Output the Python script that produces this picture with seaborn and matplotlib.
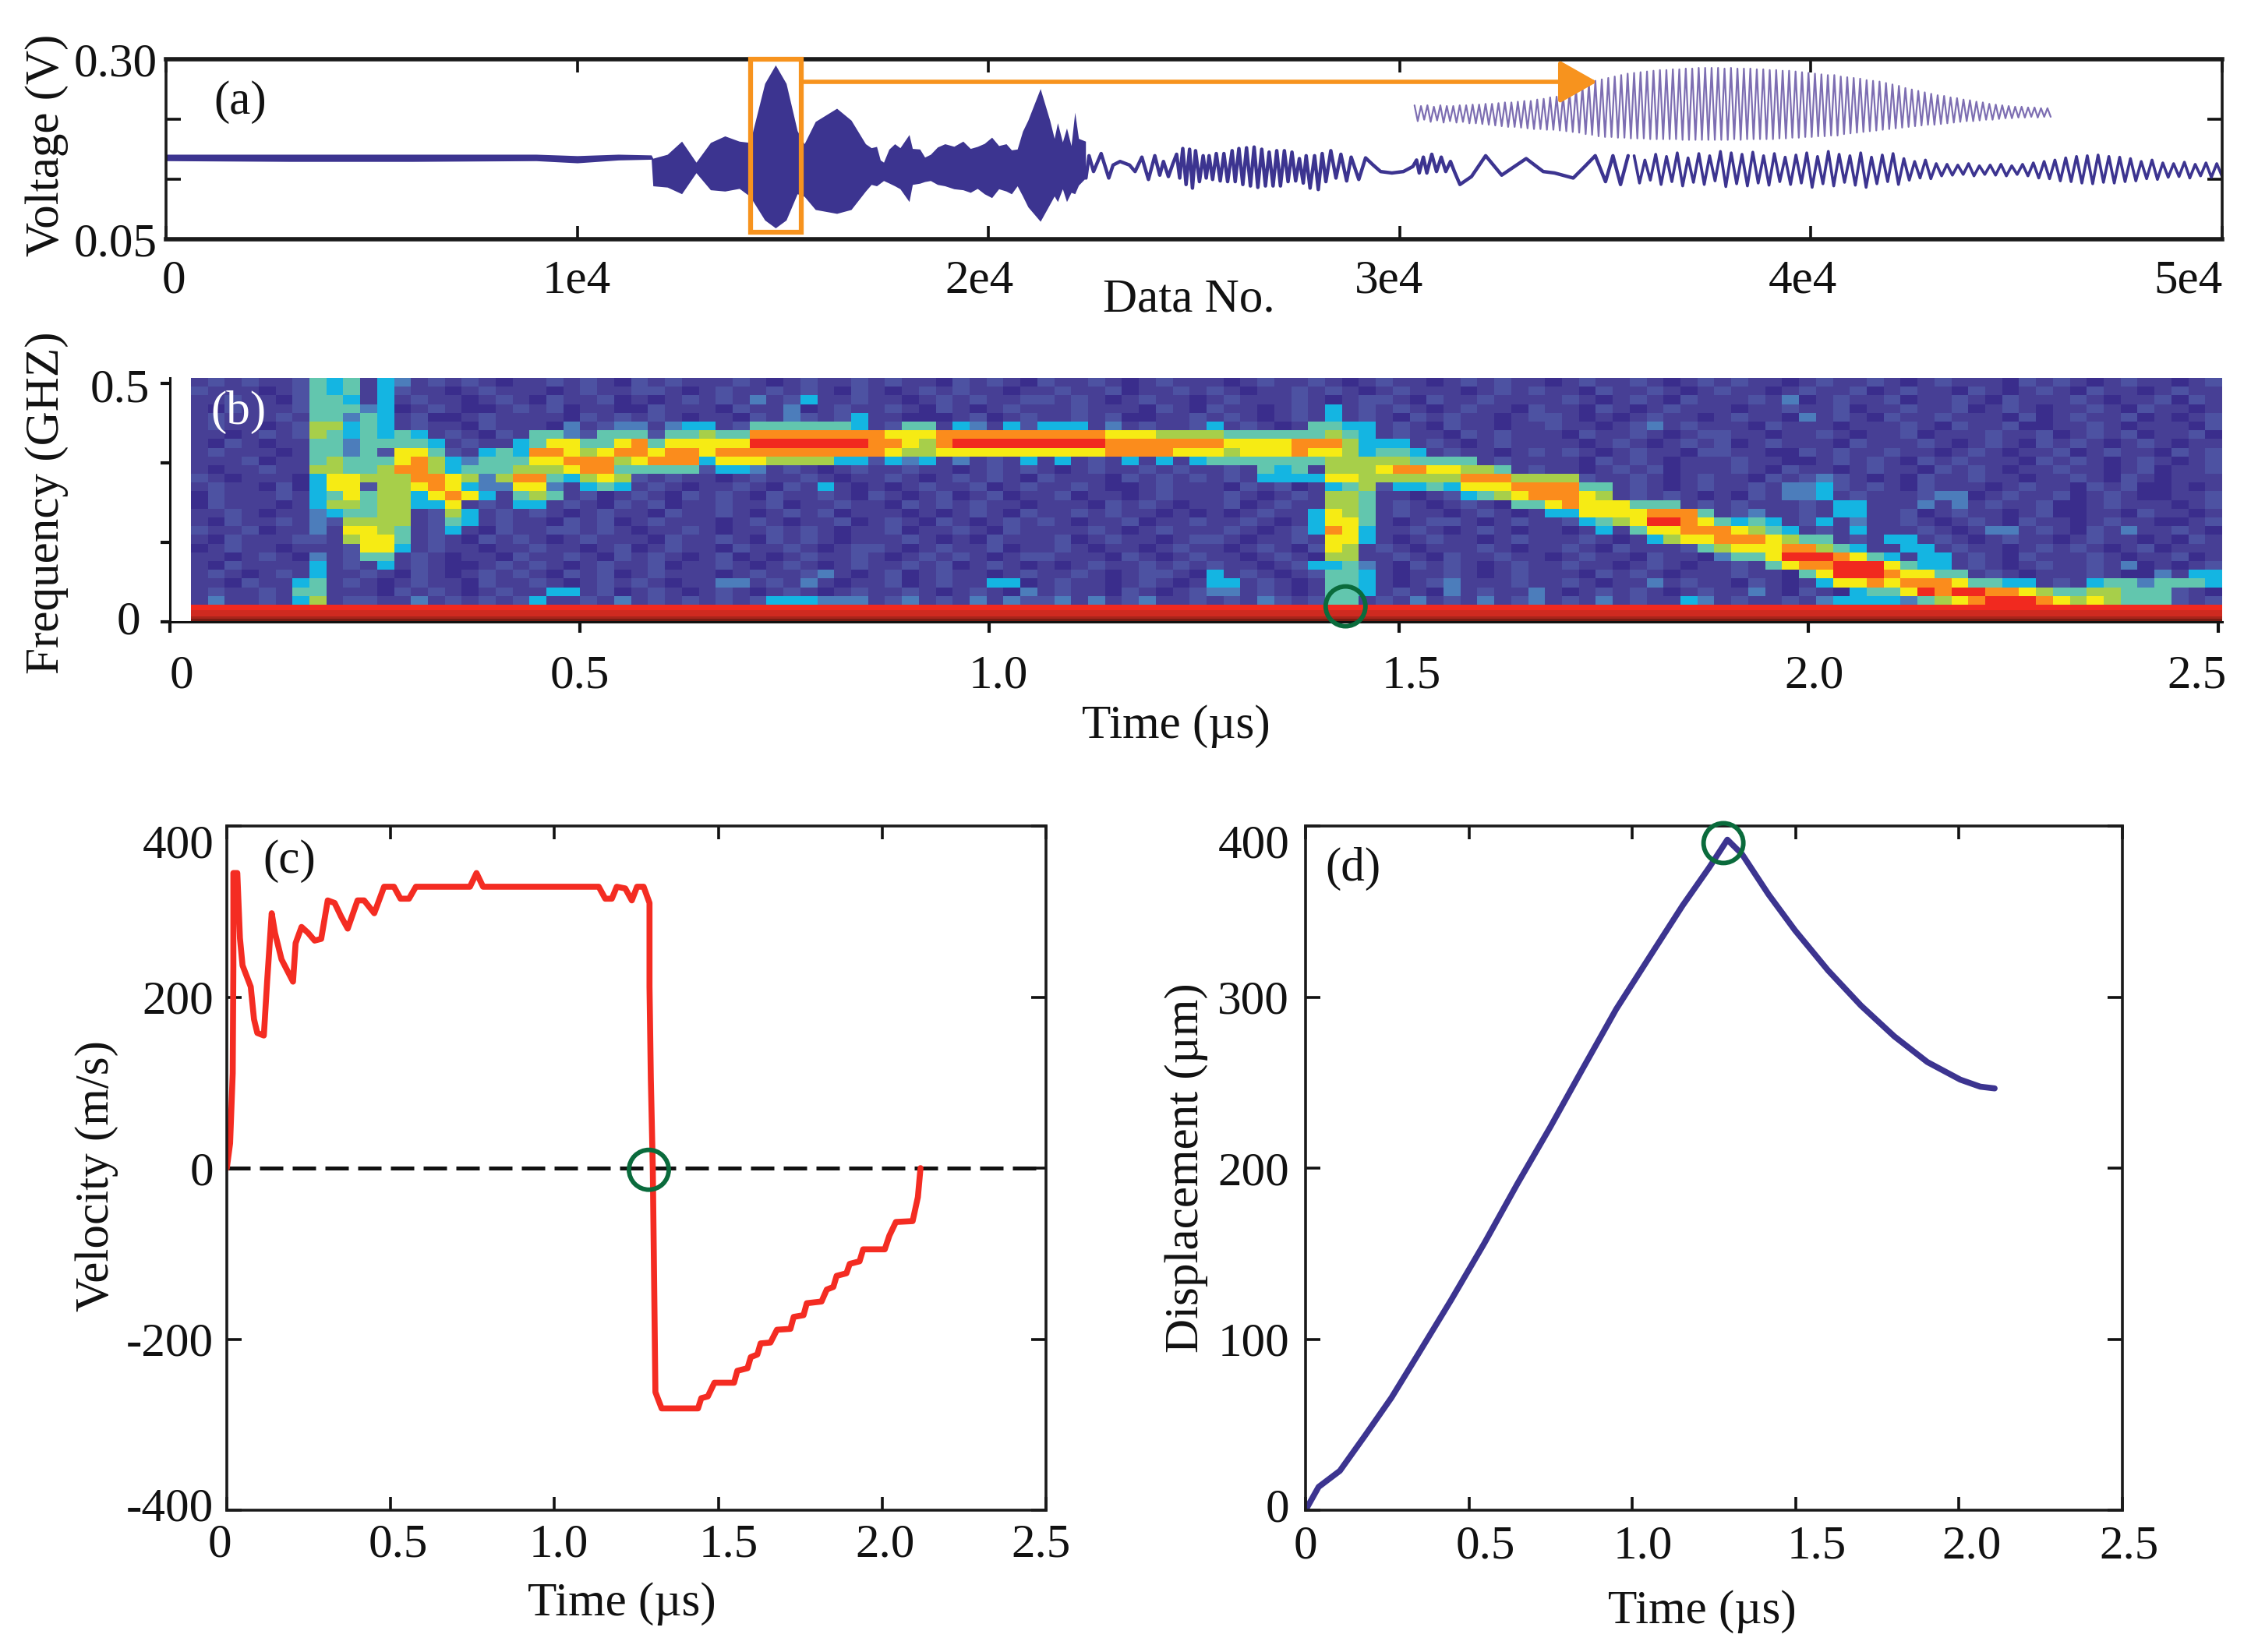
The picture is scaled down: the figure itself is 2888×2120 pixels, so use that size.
import numpy as np
import pandas as pd
import matplotlib
matplotlib.use('Agg')
import matplotlib.pyplot as plt
from matplotlib.colors import ListedColormap
from matplotlib.patches import Rectangle
from matplotlib.transforms import Affine2D, ScaledTranslation
import seaborn as sns

# panel (a) waveform, envelope of the dense part
env_x = [0, 3000, 6000, 9000, 10000, 11000, 11800, 11840, 12190, 12540, 12890, 13240, 13590, 13940, 14200, 14560, 14820,
         15080, 15350, 15520, 15790, 16310, 16660, 17010, 17150, 17280, 17370, 17450, 17580, 17720, 17850, 18070, 18150,
         18330, 18450, 18590, 18760, 18940, 19160, 19380, 19560, 19730, 19900, 20080, 20250, 20430, 20560, 20700, 20830,
         20960, 21260, 21490, 21600, 21680, 21800, 21900, 22010, 22100, 22190, 22360]
env_hi = [.168, .168, .168, .168, .166, .168, .167, .1624, .1679, .1861, .1569, .1843, .1934, .1861, .1843, .2664, .2920,
          .2664, .2007, .1825, .2135, .2318, .2153, .1825, .1770, .1788, .1600, .1569, .1750, .1825, .1770, .1953, .1760,
          .1752, .1640, .1679, .1780, .1825, .1790, .1861, .1760, .1788, .1830, .1916, .1800, .1825, .1740, .1752, .2000,
          .2153, .2591, .2153, .1900, .2117, .1850, .2044, .1800, .2263, .1900, .1861]
env_lo = [.159, .158, .158, .159, .156, .160, .161, .1241, .1223, .1131, .1423, .1186, .1168, .1205, .1095, .0766, .0657,
          .0766, .1131, .1095, .0912, .0858, .0912, .1168, .1260, .1241, .1280, .1314, .1280, .1241, .1200, .1022, .1260,
          .1277, .1300, .1314, .1260, .1241, .1200, .1186, .1150, .1205, .1130, .1077, .1200, .1168, .1130, .1241, .1100,
          .0949, .0748, .0985, .1100, .1022, .1200, .1022, .1150, .1131, .1250, .1350]

# slower oscillation after the burst
tail_x = [22370, 22445, 22555, 22740, 22925, 23030, 23200, 23430, 23565, 23730, 23890, 24045, 24165, 24255, 24375, 24485,
          24575, 24650, 24725, 24805, 24890, 24960, 25035, 25130, 25220, 25295, 25365, 25450, 25540, 25635, 25725, 25815,
          25925, 26000, 26090, 26185, 26275, 26370, 26460, 26550, 26645, 26735, 26825, 26920, 27010, 27100, 27195, 27285,
          27380, 27470, 27560, 27655, 27725, 27820, 27930, 28020, 28115, 28205, 28325, 28450, 28570, 28710, 28820, 29005,
          29170, 29355, 29535, 29810, 30090, 30320, 30410, 30475, 30575, 30660, 30780, 30895, 31010, 31120, 31235, 31330,
          31465, 31745, 32090, 32480, 33075, 33490, 33765, 34220, 34500, 34755, 35005, 35185, 35370, 35555]
tail_y = [.135, .166, .144, .169, .135, .153, .158, .153, .144, .164, .133, .166, .139, .158, .137, .155,
          .168, .135, .176, .126, .175, .121, .173, .130, .166, .135, .166, .133, .169, .131, .169, .130,
          .173, .130, .176, .126, .177, .124, .178, .122, .175, .124, .171, .124, .173, .124, .173, .130,
          .171, .131, .162, .128, .166, .121, .166, .119, .169, .130, .173, .135, .168, .131, .164, .133,
          .163, .153, .144, .142, .144, .151, .160, .142, .164, .142, .168, .144, .164, .144, .158, .144,
          .126, .137, .166, .139, .162, .144, .142, .135, .151, .166, .130, .166, .126, .166]

end_hi = [.166, .160, .168, .165, .170, .163, .169, .166, .172, .170, .168, .171, .166, .169, .164, .167, .170, .165, .172,
          .168, .166, .170, .164, .167, .169, .162, .158, .160, .155, .154, .153, .155, .152, .153, .154, .152, .154, .156,
          .158, .160, .163, .165, .166, .167, .165, .164, .162, .158, .160, .156, .155, .157, .154, .156, .155]
end_lo = [.128, .132, .126, .130, .124, .129, .126, .131, .123, .127, .124, .128, .125, .130, .126, .128, .122, .127, .124,
          .129, .125, .122, .127, .130, .126, .132, .135, .134, .138, .139, .140, .138, .140, .139, .138, .140, .138, .135,
          .134, .131, .130, .128, .127, .129, .128, .130, .131, .134, .133, .136, .137, .135, .138, .136, .137]

# enlarged burst drawn inside panel (a)
inset_hi = [.236, .235, .236, .234, .236, .235, .235, .236, .236, .237, .237, .238,
            .238, .239, .240, .240, .241, .242, .242, .244, .245, .247, .248, .249,
            .254, .258, .262, .266, .270, .272, .274, .276, .278, .280,
            .281, .282, .283, .284, .285, .285, .286, .286, .287, .287, .288, .288, .288,
            .288, .287, .288, .287, .287, .287, .286, .286, .285, .285, .284, .284,
            .283, .282, .281, .280, .279, .278, .278, .276, .275, .274, .273, .271, .270, .269,
            .267, .265, .263, .260, .258, .256, .254, .252, .250, .249, .247, .246, .244, .243,
            .241, .240, .238, .237, .236, .235, .234, .234, .233, .233, .232, .232]
inset_lo = [.214, .216, .213, .215, .212, .214, .212, .213, .211, .211, .210, .209,
            .208, .207, .206, .206, .205, .204, .203, .203, .202, .202, .201, .200,
            .199, .198, .196, .195, .193, .192, .192, .191, .191, .190,
            .190, .190, .189, .189, .189, .189, .189, .188, .188, .188, .188, .188, .188,
            .188, .188, .189, .188, .189, .189, .189, .189, .189, .190, .190, .191,
            .191, .192, .192, .193, .193, .194, .194, .196, .197, .198, .199, .200, .201, .202,
            .203, .204, .205, .206, .207, .208, .209, .209, .210, .211, .212, .213, .214, .214,
            .215, .216, .216, .217, .218, .218, .219, .219, .220, .219, .220, .220]

# panel (b) spectrogram, top row first, one hex level per cell
spec_rows = [
    "1212112545 1431212101 1212102121 1121012112 1211021210 2112101211 1012112101 2110121211 0121121012 1211012112 1012111021 2101211012",
    "2111012545 1421101211 1012112210 1211212102 1012121101 1211201121 2101121210 1211101212 1102112101 2110121120 1211021012 1021101211",
    "1121102554 1412110121 0211201012 1213124112 1101212112 2121012110 1211121012 2102112111 1210121021 1121301211 2011210211 1210112021",
    "1021112555 3401210012 1201100211 1021130121 1210210121 1121110210 2110121412 1210121102 1102101211 1011211201 1211201210 1121021101",
    "1211121553 5412001211 1102121210 1102132124 1100012012 1121200112 1210121412 1021211012 2101012110 1211031210 2112111020 1211201012",
    "1211012664 5412110211 1031233134 4125555554 1255143142 4441312112 4121015544 1210211011 2110123121 1102111011 1210211200 1121011102",
    "1101212654 5454121021 5532555255 6558888888 8777888888 8888777666 6555555654 1211021211 1021121012 2110112101 1201112112 0121201120",
    "1021011553 5555412114 5775578577 7779999999 8876899999 9999888888 8777788864 4412101211 1101210121 2012111021 1121012102 1210121011",
    "1211101553 5277521454 8876788788 7888888888 8766777777 7777888877 7677787764 5541211012 1210121102 2110021211 2110121011 2012110212",
    "1112011565 5578643555 7788867888 4777666644 2434131214 1412141414 5555555666 6655551211 1102121011 1211001212 1021211102 1210121012",
    "1011211665 5688645556 6678855555 2443121012 1121101212 1012112121 1215451666 7887766512 1101212011 1210211012 1102121011 2110120112",
    "2101110477 6668876368 8546762121 1012112101 1210121210 2111021212 1214444776 6666688866 6621121012 1102123210 1021121101 1210210111",
    "1211020477 2667874337 7314541210 1121021410 1012112012 1121001211 1021201456 2445477788 8855121012 1121334212 1021110121 1021200101",
    "0211121457 5664787415 6512012102 1210211210 2101201201 1201101211 1210121665 1101245678 8876121210 1021334121 1123301211 2012100112",
    "0211101466 5664471214 4121021201 1211201121 1021212110 1110212101 1201211665 1210121055 7877755512 1211121441 1131312112 0012111012",
    "1121011345 5661264121 2101211021 1210121201 1101012102 1121211010 1012114765 1211012101 4477778885 1231121441 1201211012 0011021101",
    "1021121326 6661254121 1021201211 1012101120 1210210121 2101120112 1121014775 1012210121 1245679987 5454124131 1210121021 1012110012",
    "2112011317 7651241021 1221210112 1011212101 1201121021 1112101211 1210124874 1121012101 1014157788 8765412141 1121013312 1021311210",
    "1021112216 7751210212 1012111021 1210212101 1121010211 1201211012 2101121774 1012110121 1121014677 8887655121 4412101211 0121101021",
    "0121101112 7741211011 2110120121 1021121012 2101211201 1210110121 1012102761 2101112101 1210211125 6777886541 1441211012 1210120111",
    "1101210312 5512101102 1121021210 1201012112 1012121012 2111021012 1101210661 1210211211 0121102110 3557999875 4144121021 1121011201",
    "1021111412 1412100121 2101211201 1210121012 1121201210 1012112121 2110124453 1021210121 1211012101 1215788999 7544121012 1121301012",
    "1210121411 2102101212 1021201211 1012112310 1201211012 1121012210 4121012554 1011210121 1102121011 1211057999 8775512101 1121003144",
    "1102114512 1012110211 2101212101 1331213101 1201211440 1211012101 4412101554 1012311121 1210113121 1021014778 7888755441 2145535554",
    "1211215511 1021210121 1441201210 1210121012 1121012103 1211021012 3312101554 1210312113 1012121012 1131021045 5798998876 5566555210",
    "1311214612 2113121212 4112131212 1212444333 1231213132 2313123112 1213212551 2131213123 1213121143 1211213444 4356789998 7676555212",
]
band_levels = [9, 9, 10, 10, 11, 12]
spec_palette = ['#3a2d8c', '#473f95', '#4d52a2', '#4c7dbb', '#14b5e2', '#62c6ae', '#a7cf4a',
                '#f6eb14', '#fb8c1c', '#f1291f', '#cf2a20', '#a8251b', '#7b1c13']

# panel (c) velocity
vel_t = [0, .010, .018, .020, .020, .032, .040, .048, .073, .083, .093, .113, .123, .137, .147, .167, .202, .210, .228,
         .248, .268, .288, .308, .329, .349, .369, .399, .419, .450, .480, .510, .530, .556, .577, .742, .762, .782,
         1.135, 1.155, 1.175, 1.190, 1.216, 1.236, 1.252, 1.272, 1.290, 1.290, 1.294, 1.300, 1.304, 1.308, 1.327,
         1.438, 1.448, 1.468, 1.488, 1.548, 1.558, 1.589, 1.599, 1.619, 1.629, 1.659, 1.679, 1.720, 1.730, 1.760,
         1.770, 1.815, 1.831, 1.851, 1.861, 1.891, 1.901, 1.931, 1.942, 2.008, 2.022, 2.042, 2.093, 2.109, 2.117]
vel_v = [0, 29, 111, 237, 345, 345, 269, 237, 212, 174, 158, 155, 218, 298, 275, 244, 218, 263, 282,
         275, 266, 268, 313, 310, 294, 280, 313, 313, 298, 329, 329, 315, 315, 329, 329, 345, 329,
         329, 315, 315, 329, 327, 313, 329, 329, 310, 212, 105, 0, -129, -262, -281,
         -281, -269, -267, -251, -251, -237, -234, -221, -218, -205, -204, -189, -188, -174, -172,
         -158, -156, -142, -139, -126, -123, -112, -109, -95, -95, -79, -63, -62, -34, 0]

# panel (d) displacement
dis_t = [0, .040, .105, .182, .263, .344, .445, .547, .648, .749, .850, .951, 1.053, 1.154, 1.235, 1.291,
         1.336, 1.417, 1.498, 1.599, 1.700, 1.802, 1.903, 2.004, 2.065, 2.109]
dis_d = [0, 13.6, 23, 43.6, 65.8, 91, 122.7, 156, 190.7, 224, 258.7, 293, 323.5, 353.5, 375.6, 392,
         383.5, 360, 339, 315.6, 295, 277, 262, 251.7, 247.6, 246.6]

W, H = 2888, 2120
NAVY = '#3c3490'
ORANGE = '#f7931e'
GREEN = '#0a6b3c'
RED = '#f42c22'

sns.set_theme(style='white')
plt.rcParams['font.family'] = ['Liberation Serif', 'DejaVu Serif']
plt.rcParams['font.size'] = 44
plt.rcParams['text.color'] = '#111111'
plt.rcParams['xtick.color'] = '#111111'
plt.rcParams['ytick.color'] = '#111111'
plt.rcParams['xtick.labelcolor'] = '#111111'
plt.rcParams['ytick.labelcolor'] = '#111111'
plt.rcParams['axes.labelcolor'] = '#111111'

fig = plt.figure(figsize=(W / 100, H / 100), dpi=100, facecolor='white')
px = Affine2D().scale(1 / W, -1 / H).translate(0, 1) + fig.transFigure


def add_ax(left, top, right, bottom):
    return fig.add_axes([left / W, 1 - bottom / H, (right - left) / W, (bottom - top) / H])


def shift_labels(labels, dx, dy=None):
    for i, lab in enumerate(labels):
        up = 0 if dy is None else dy[i]
        lab.set_transform(lab.get_transform() + ScaledTranslation(dx[i] / 100, up / 100, fig.dpi_scale_trans))


def put_labels(ax, xlabel, xpos, ylabel, ypos):
    ax.set_xlabel(xlabel, fontsize=44, va='center', ha='center')
    ax.set_ylabel(ylabel, fontsize=44, va='center', ha='center', rotation=90)
    ax.xaxis.set_label_coords(xpos[0], xpos[1], transform=px)
    ax.yaxis.set_label_coords(ypos[0], ypos[1], transform=px)


def zigzag(hi, lo):
    y = np.empty(len(hi) * 2)
    y[0::2] = hi
    y[1::2] = lo
    return y


def box_ax(ax, xticks, xlabs, yticks, ylabs, xlim, ylim, xpad, ypad):
    ax.set_xlim(*xlim)
    ax.set_ylim(*ylim)
    ax.set_xticks(xticks)
    ax.set_xticklabels(xlabs)
    ax.set_yticks(yticks)
    ax.set_yticklabels(ylabs)
    ax.tick_params(axis='x', direction='in', top=True, bottom=True, length=12, width=2.6, labelsize=44, pad=xpad)
    ax.tick_params(axis='y', direction='in', left=True, right=True, length=14, width=2.6, labelsize=44, pad=ypad)
    for sp in ax.spines.values():
        sp.set_visible(True)
        sp.set_color('#1a1a1a')
        sp.set_linewidth(2.6)


# (a)
ax_a = add_ax(213, 76, 2851, 307)
inset_x = np.linspace(30360, 45830, len(inset_hi) * 2)
sns.lineplot(x=inset_x, y=zigzag(inset_hi, inset_lo), ax=ax_a, sort=False, estimator=None, color='#7d6eb2', lw=1.6)
ax_a.fill_between(env_x, env_lo, env_hi, color=NAVY, lw=0)
tail_df = pd.DataFrame({'no': tail_x, 'volt': tail_y})
sns.lineplot(data=tail_df, x='no', y='volt', ax=ax_a, sort=False, estimator=None, color=NAVY, lw=3.2)
end_x = np.linspace(35700, 50000, len(end_hi) * 2)
sns.lineplot(x=end_x, y=zigzag(end_hi, end_lo), ax=ax_a, sort=False, estimator=None, color=NAVY, lw=2.6)
box_ax(ax_a, [0, 1e4, 2e4, 3e4, 4e4, 5e4], ['0', '1e4', '2e4', '3e4', '4e4', '5e4'],
       [0.05, 0.05 + 0.25 / 3, 0.05 + 0.5 / 3, 0.30], ['0.05', '', '', '0.30'],
       (0, 5e4), (0.05, 0.30), 19, 8)
ax_a.spines['top'].set_linewidth(4)
ax_a.spines['bottom'].set_linewidth(4)
ax_a.add_patch(Rectangle((14212, 0.0597), 1234, 0.2403, fill=False, ec=ORANGE, lw=4.5, clip_on=False, zorder=5))
ax_a.annotate('', xy=(34800, 0.2686), xytext=(15446, 0.2686), zorder=5,
              arrowprops=dict(arrowstyle='-|>,head_length=30,head_width=17', mutation_scale=1, lw=4,
                              color=ORANGE, shrinkA=0, shrinkB=0))
put_labels(ax_a, 'Data No.', (1525, 385), 'Voltage (V)', (60, 186))
shift_labels(ax_a.get_xticklabels(), [10, -1, -12, -14, -10, -44])
ax_a.text(308, 131, '(a)', transform=px, fontsize=44, ha='center', va='center')

# (b)
spec_grid = np.array([[int(c, 16) for c in row.replace(' ', '')] for row in spec_rows], dtype=float)
spec_cmap = ListedColormap(spec_palette)
ax_hm = add_ax(245, 485, 2851, 776)
sns.heatmap(spec_grid, ax=ax_hm, cmap=spec_cmap, vmin=-0.5, vmax=12.5, cbar=False, xticklabels=False, yticklabels=False)
ax_band = add_ax(245, 776, 2851, 798)
sns.heatmap(np.array(band_levels, dtype=float).reshape(-1, 1), ax=ax_band, cmap=spec_cmap, vmin=-0.5, vmax=12.5,
            cbar=False, xticklabels=False, yticklabels=False)
ax_b = add_ax(218, 485, 2851, 798)
ax_b.patch.set_alpha(0)
ax_b.set_xlim(0, 2.505)
ax_b.set_ylim(0, 0.5114)
ax_b.set_xticks([0, 0.5, 1.0, 1.5, 2.0, 2.5])
ax_b.set_xticklabels(['0', '0.5', '1.0', '1.5', '2.0', '2.5'])
ax_b.set_yticks([0, 0.5 / 3, 1.0 / 3, 0.5])
ax_b.set_yticklabels(['0', '', '', '0.5'])
ax_b.tick_params(axis='x', direction='out', bottom=True, length=10, width=3, labelsize=44, pad=20)
ax_b.tick_params(axis='y', direction='out', left=True, length=9, width=3, labelsize=44, pad=8)
for name, sp in ax_b.spines.items():
    sp.set_visible(name in ('left', 'bottom'))
    sp.set_color('#111111')
    sp.set_linewidth(2.2)
ax_b.scatter([1.435], [0.0325], s=1350, facecolors='none', edgecolors=GREEN, linewidths=4.2, zorder=6, clip_on=False)
put_labels(ax_b, 'Time (µs)', (1509, 932), 'Frequency (GHZ)', (60, 645))
shift_labels(ax_b.get_xticklabels(), [15, 0, 12, 16, 7, -27])
shift_labels(ax_b.get_yticklabels(), [-14, 0, 0, -2], [6, 0, 0, -2])
ax_b.text(306, 529, '(b)', transform=px, fontsize=44, ha='center', va='center', color='white')

# (c)
ax_c = add_ax(291, 1060, 1342, 1938)
ax_c.axhline(0, color='#111111', lw=3.6, dashes=(6, 2.4), zorder=1)
vel_df = pd.DataFrame({'t': vel_t, 'v': vel_v})
sns.lineplot(data=vel_df, x='t', y='v', ax=ax_c, sort=False, estimator=None, color=RED, lw=5.5)
box_ax(ax_c, [0, 0.5, 1.0, 1.5, 2.0, 2.5], ['0', '0.5', '1.0', '1.5', '2.0', '2.5'],
       [-400, -200, 0, 200, 400], ['-400', '-200', '0', '200', '400'], (0, 2.5), (-400, 400), 12, 12)
ax_c.scatter([1.288], [-2], s=1350, facecolors='none', edgecolors=GREEN, linewidths=4.2, zorder=6, clip_on=False)
put_labels(ax_c, 'Time (µs)', (798, 2058), 'Velocity (m/s)', (124, 1509))
shift_labels(ax_c.get_xticklabels(), [-9, 10, 5, 13, 4, -6])
shift_labels(ax_c.get_yticklabels(), [0, 0, 0, 0, 0], [8, 0, 0, 0, -19])
ax_c.text(371, 1105, '(c)', transform=px, fontsize=44, ha='center', va='center')

# (d)
ax_d = add_ax(1675, 1060, 2723, 1938)
dis_df = pd.DataFrame({'t': dis_t, 'd': dis_d})
sns.lineplot(data=dis_df, x='t', y='d', ax=ax_d, sort=False, estimator=None, color=NAVY, lw=5.5)
box_ax(ax_d, [0, 0.5, 1.0, 1.5, 2.0, 2.5], ['0', '0.5', '1.0', '1.5', '2.0', '2.5'],
       [0, 100, 200, 300, 400], ['0', '100', '200', '300', '400'], (0, 2.5), (0, 400), 14, 15)
ax_d.scatter([1.279], [390], s=1350, facecolors='none', edgecolors=GREEN, linewidths=4.2, zorder=6, clip_on=False)
put_labels(ax_d, 'Time (µs)', (2184, 2068), 'Displacement (µm)', (1522, 1499))
shift_labels(ax_d.get_xticklabels(), [0, 21, 14, 27, 16, 8])
shift_labels(ax_d.get_yticklabels(), [0, 0, 0, 0, 0], [7, 0, 0, 0, -19])
ax_d.text(1736, 1115, '(d)', transform=px, fontsize=44, ha='center', va='center')

fig.savefig('out.png', dpi=100)
